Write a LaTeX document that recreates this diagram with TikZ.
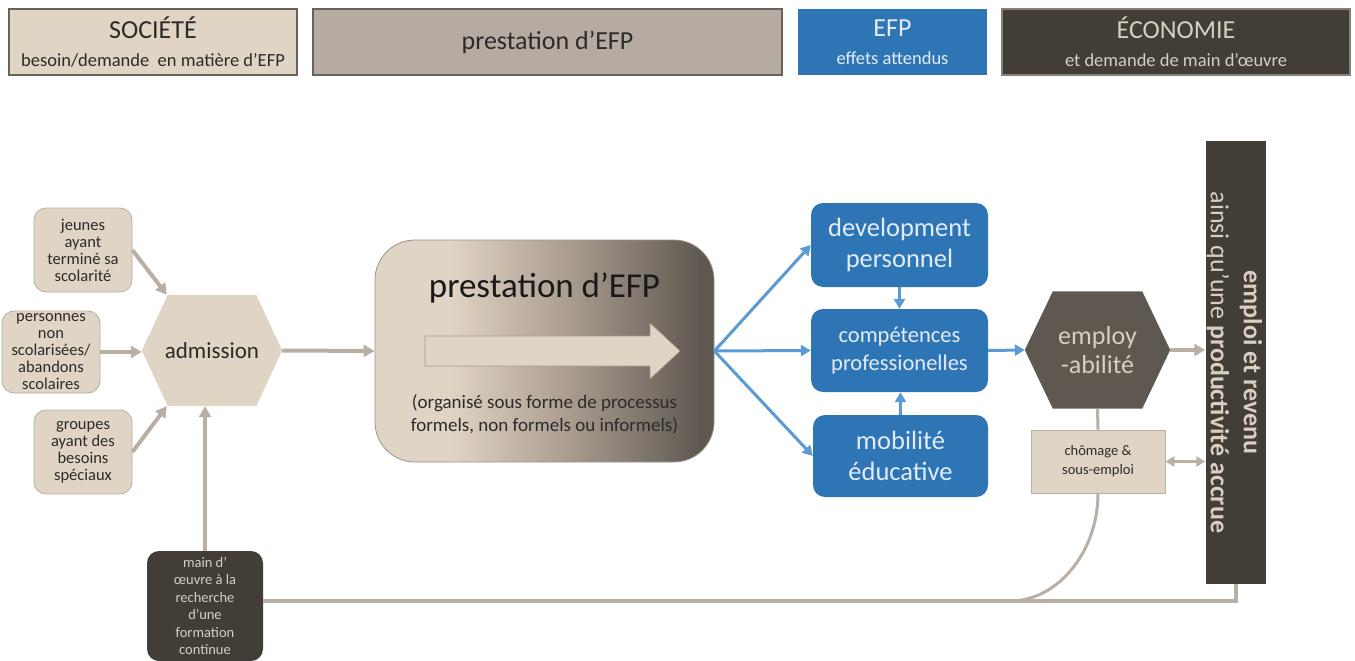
\documentclass[tikz,border=0pt]{standalone}
\usepackage{fontspec}
\setmainfont{Carlito}
\usetikzlibrary{arrows.meta,backgrounds,calc}

\definecolor{sand}{HTML}{E0D4C4}
\definecolor{taupe}{HTML}{B6ABA0}
\definecolor{linegray}{HTML}{B9AFA5}
\definecolor{coal}{HTML}{423D36}
\definecolor{stone}{HTML}{5F5851}
\definecolor{midfade}{HTML}{AFA294}
\definecolor{efpblue}{HTML}{2E75B6}
\definecolor{skyblue}{HTML}{5B9BD5}
\definecolor{paletext}{HTML}{D8CEC1}
\definecolor{bluetext}{HTML}{E3ECF6}
\definecolor{inktext}{HTML}{2B2B2B}
\definecolor{frame}{HTML}{67625C}

% beige-to-dark fade of the central delivery block
\pgfdeclarehorizontalshading{efpfade}{100bp}{color(0bp)=(sand); color(36bp)=(sand); color(52bp)=(midfade); color(73bp)=(stone); color(100bp)=(stone)}

\tikzset{
  headbox/.style={minimum height=66pt, inner sep=0pt, align=center, line width=1.5pt,
    font=\fontsize{18.5}{28}\selectfont},
  headtitle/.style={},
  srcbox/.style={rounded corners=12pt, fill=sand, draw=linegray, line width=0.8pt,
    minimum width=98pt, minimum height=84pt, align=center, inner sep=0pt,
    text=inktext, font=\fontsize{16.5}{17}\selectfont},
  effbox/.style={rounded corners=12pt, fill=efpblue, text=bluetext,
    minimum width=177pt, minimum height=84pt, align=center, inner sep=0pt},
  hexnode/.style={inner sep=0pt, align=center},
  grayarrow/.style={draw=linegray, line width=4pt, -{Triangle[length=11pt,width=12pt]}},
  grayboth/.style={draw=linegray, line width=3pt, {Triangle[length=9pt,width=10pt]}-{Triangle[length=9pt,width=10pt]}},
  grayline/.style={draw=linegray, line width=3pt},
  bluearrow/.style={draw=skyblue, line width=3pt, -{Triangle[length=10pt,width=11pt]}}
}
\newcommand{\bigline}[1]{{\fontsize{26}{28}\selectfont #1}}

\begin{document}
\begin{tikzpicture}[x=1pt,y=-1pt]
\useasboundingbox (0,0) rectangle (1355,661);

% ---- header row ----
\node[headbox, fill=sand, draw=frame, minimum width=288pt, text=inktext] (soc) at (153,42)
  {\bigline{SOCIÉTÉ}\\besoin/demande\ \ en matière d’EFP};
\node[headbox, fill=taupe, draw=frame, minimum width=469pt, text=inktext] (prh) at (547.5,42)
  {\bigline{prestation d’EFP}};
\node[headbox, fill=efpblue, minimum width=189pt, text=bluetext] (efph) at (892.5,42)
  {\bigline{EFP}\\effets attendus};
\node[headbox, fill=coal, draw=linegray!60!coal, minimum width=348pt, text=paletext] (eco) at (1176,42)
  {\bigline{ÉCONOMIE}\\et demande de main d’œuvre};

% ---- target groups ----
\node[srcbox] (jeunes) at (83,250) {jeunes\\ayant\\terminé sa\\scolarité};
\node[srcbox, minimum height=82pt] (pers) at (51,352) {personnes\\non\\scolarisées/\\abandons\\scolaires};
\node[srcbox] (grp) at (83,452) {groupes\\ayant des\\besoins\\spéciaux};

% ---- admission ----
\node[hexnode, minimum width=140pt, minimum height=111pt, text=inktext,
  font=\fontsize{23}{26}\selectfont] (adm) at (212,350.5) {admission};

% ---- delivery block ----
\node[rounded corners=40pt, shading=efpfade, draw=taupe!70!stone, line width=0.8pt,
  minimum width=339pt, minimum height=222pt, inner sep=0pt] (big) at (544.5,351) {};
\node[text=black!90, font=\fontsize{35}{38}\selectfont] (bigtitle) at (544.5,288) {prestation d’EFP};
\path[fill=sand, draw=taupe!80!stone, line width=0.6pt]
  ($(big.center)+(-119.5,-15)$) -- ++(225,0) -- ++(0,-13) -- ($(big.center)+(135.5,0)$)
  -- ($(big.center)+(105.5,28)$) -- ++(0,-13) -- ($(big.center)+(-119.5,15)$) -- cycle;
\node[text=inktext, align=center, font=\fontsize{19}{23}\selectfont] (bignote) at (544.5,414)
  {(organisé sous forme de processus\\formels, non formels ou informels)};

% ---- expected effects ----
\node[effbox, font=\fontsize{26.5}{31}\selectfont] (dev) at (899.5,245) {development\\personnel};
\node[effbox, minimum height=83pt, font=\fontsize{22.5}{28}\selectfont] (comp) at (899.5,350.5) {compétences\\professionelles};
\node[effbox, minimum width=175pt, minimum height=82pt, font=\fontsize{26.5}{31}\selectfont] (mob) at (900.5,456) {mobilité\\éducative};

% ---- employability ----
\node[hexnode, minimum width=145pt, minimum height=117pt, text=paletext,
  font=\fontsize{26}{29}\selectfont] (emp) at (1097.5,350) {employ\\-abilité};

\node[fill=sand, draw=linegray, line width=0.8pt, minimum width=134pt, minimum height=63pt,
  inner sep=0pt, align=center, text=inktext, font=\fontsize{14.5}{19}\selectfont] (chom) at (1098,461.5)
  {chômage \&\\sous-emploi};

% ---- outcome bar ----
\node[fill=coal, minimum width=60pt, minimum height=443pt, inner sep=0pt] (bar) at (1235.5,362.5) {};
\node[rotate=-90, text=paletext, align=center, font=\fontsize{26}{33}\selectfont] (bartext) at ([xshift=-1pt]bar.center)
  {\textbf{emploi et revenu}\\ainsi qu’une \textbf{productivité accrue}};

% ---- continuing training ----
\node[rounded corners=12pt, fill=coal, text=paletext, minimum width=116pt, minimum height=110pt,
  inner sep=0pt, align=center, font=\fontsize{14.5}{17.4}\selectfont] (mdo) at (205,606)
  {main d’\\œuvre à la\\recherche\\d’une\\formation\\continue};

% hexagon outlines behind their labels
\begin{pgfonlayer}{background}
  \fill[sand] (adm.west) -- ([xshift=26pt]adm.north west) -- ([xshift=-26pt]adm.north east)
    -- (adm.east) -- ([xshift=-26pt]adm.south east) -- ([xshift=26pt]adm.south west) -- cycle;
  \fill[stone] (emp.west) -- ([xshift=28pt]emp.north west) -- ([xshift=-28pt]emp.north east)
    -- (emp.east) -- ([xshift=-28pt]emp.south east) -- ([xshift=28pt]emp.south west) -- cycle;
\end{pgfonlayer}

% ---- connectors ----
\draw[grayarrow] (jeunes.east) -- ([xshift=25pt]adm.north west);
\draw[grayarrow] (pers.east) -- (pers.east -| adm.west);
\draw[grayarrow] (grp.east) -- ([xshift=25pt]adm.south west);
\draw[grayarrow] (adm.east) -- (big.west);
\draw[grayarrow] (mdo.north) -- (mdo.north |- adm.south);

\draw[bluearrow] (big.east) -- (dev.west);
\draw[bluearrow] (big.east) -- (comp.west);
\draw[bluearrow] (big.east) -- (mob.west);
\draw[bluearrow] (dev.south) -- (comp.north);
\draw[bluearrow] (mob.north) -- (mob.north |- comp.south);
\draw[bluearrow] (comp.east) -- (emp.west);

\draw[grayarrow] (emp.east) -- (emp.east -| bar.west);
\draw[grayline] (emp.south) -- (chom.north);
\draw[grayboth] (chom.east) -- (chom.east -| bar.west);

\coordinate (fb) at (0,601);
\coordinate (merge) at (1010,601);
\draw[draw=linegray, line width=4pt] (bar.south) -- (bar.south |- fb) -- (fb -| mdo.east);
\draw[grayline] (chom.south) .. controls ([yshift=-58pt]chom.south) and ([xshift=48pt]merge) .. (merge);
\end{tikzpicture}
\end{document}
